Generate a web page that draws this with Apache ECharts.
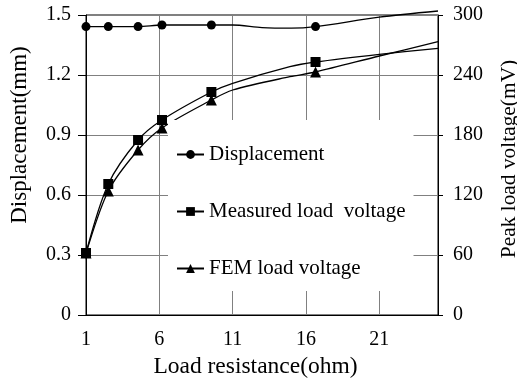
<!DOCTYPE html>
<html>
<head>
<meta charset="utf-8">
<script src="https://cdn.jsdelivr.net/npm/echarts@6/dist/echarts.min.js"></script>
<style>
  html, body { margin: 0; padding: 0; background: #fff; }
  #chart { width: 517px; height: 381px; }
</style>
</head>
<body>
<div id="chart"></div>
<script>
// measured points (with markers)
const resistance = [1, 2.52, 4.55, 6.18, 9.55, 16.65];
const displacement = [1.442, 1.442, 1.442, 1.45, 1.45, 1.442];
const measuredVoltage = [62, 131, 175, 195, 223, 253];
const femVoltage = [62, 124, 165, 187, 215, 243];

// stretches of the drawn curves that carry no marker
const displacementCurveX = [11, 13, 15, 21, 25];
const displacementCurveY = [1.45, 1.437, 1.434, 1.489, 1.52];
const measuredCurveX = [11, 14.9, 21, 25];
const measuredCurveY = [231.7, 248.3, 260.7, 266.7];
const femCurveX = [0.78, 11, 14.9, 21, 25];
const femCurveY = [45, 225, 238.3, 259, 273.3];

const seriesNames = ['Displacement', 'Measured load  voltage', 'FEM load voltage'];
const axisNames = ['Load resistance(ohm)', 'Displacement(mm)', 'Peak load voltage(mV)'];

const FONT = 'Liberation Serif';

// merge marked points and plain curve points, sorted by x
function buildData(xs, ys, curveX, curveY) {
    const pts = xs.map((x, i) => ({ value: [x, ys[i]] }));
    curveX.forEach((x, i) => pts.push({ value: [x, curveY[i]], symbol: 'none' }));
    return pts.sort((a, b) => a.value[0] - b.value[0]);
}

const chart = echarts.init(document.getElementById('chart'));

const lineSeries = (name, data, yIndex, symbol, size) => ({
    type: 'line',
    name: name,
    yAxisIndex: yIndex,
    data: data,
    smooth: 0.3,
    clip: false,
    symbol: symbol,
    symbolSize: size,
    showAllSymbol: true,
    itemStyle: { color: '#000' },
    lineStyle: { color: '#000', width: 1.3 },
    emphasis: { disabled: true },
    animation: false
});

const nameText = (text, x, y, size, rotation) => ({
    type: 'text',
    x: x,
    y: y,
    rotation: rotation,
    style: {
        text: text,
        fill: '#000',
        font: size + 'px "' + FONT + '"',
        align: 'center',
        verticalAlign: 'middle'
    }
});

chart.setOption({
    animation: false,
    grid: {
        left: 86, right: 79, top: 15, bottom: 66,
        outerBoundsMode: 'none',
        containLabel: false,
        show: true, borderColor: '#000', borderWidth: 1
    },
    legend: {
        orient: 'vertical',
        left: 168,
        top: 120,
        data: seriesNames,
        backgroundColor: '#fff',
        padding: [24, 8, 12, 8],
        itemGap: 36,
        itemWidth: 27,
        itemHeight: 11,
        textStyle: { fontFamily: FONT, fontSize: 21, color: '#000' },
        selectedMode: false
    },
    graphic: [
        nameText(axisNames[0], 255.5, 367, 23.5, 0),
        nameText(axisNames[1], 19.5, 135, 23, Math.PI / 2),
        nameText(axisNames[2], 509.5, 159, 21.4, Math.PI / 2)
    ],
    xAxis: {
        type: 'value',
        min: 1,
        max: 25,
        interval: 5,
        axisLine: { lineStyle: { color: '#000', width: 1 } },
        axisTick: { show: false },
        axisLabel: { fontFamily: FONT, fontSize: 20, color: '#000', margin: 15, showMaxLabel: false },
        splitLine: { show: true, lineStyle: { color: '#808080', width: 1 } }
    },
    yAxis: [
        {
            type: 'value',
            min: 0,
            max: 1.5,
            interval: 0.3,
            axisLine: { show: true, lineStyle: { color: '#000', width: 1 } },
            axisTick: { show: true, length: 8, lineStyle: { color: '#000' } },
            axisLabel: {
                fontFamily: FONT, fontSize: 20, color: '#000', margin: 15,
                formatter: v => (v === 0 ? '0' : v.toFixed(1))
            },
            splitLine: { show: true, lineStyle: { color: '#808080', width: 1 } }
        },
        {
            type: 'value',
            position: 'right',
            min: 0,
            max: 300,
            interval: 60,
            axisLine: { show: true, lineStyle: { color: '#000', width: 1 } },
            axisTick: { show: true, length: 5, lineStyle: { color: '#000' } },
            axisLabel: { fontFamily: FONT, fontSize: 20, color: '#000', margin: 15 },
            splitLine: { show: false }
        }
    ],
    series: [
        lineSeries(seriesNames[0], buildData(resistance, displacement, displacementCurveX, displacementCurveY), 0, 'circle', 9),
        lineSeries(seriesNames[1], buildData(resistance, measuredVoltage, measuredCurveX, measuredCurveY), 1, 'rect', 10),
        lineSeries(seriesNames[2], buildData(resistance, femVoltage, femCurveX, femCurveY), 1, 'triangle', 11)
    ]
});
</script>
</body>
</html>
